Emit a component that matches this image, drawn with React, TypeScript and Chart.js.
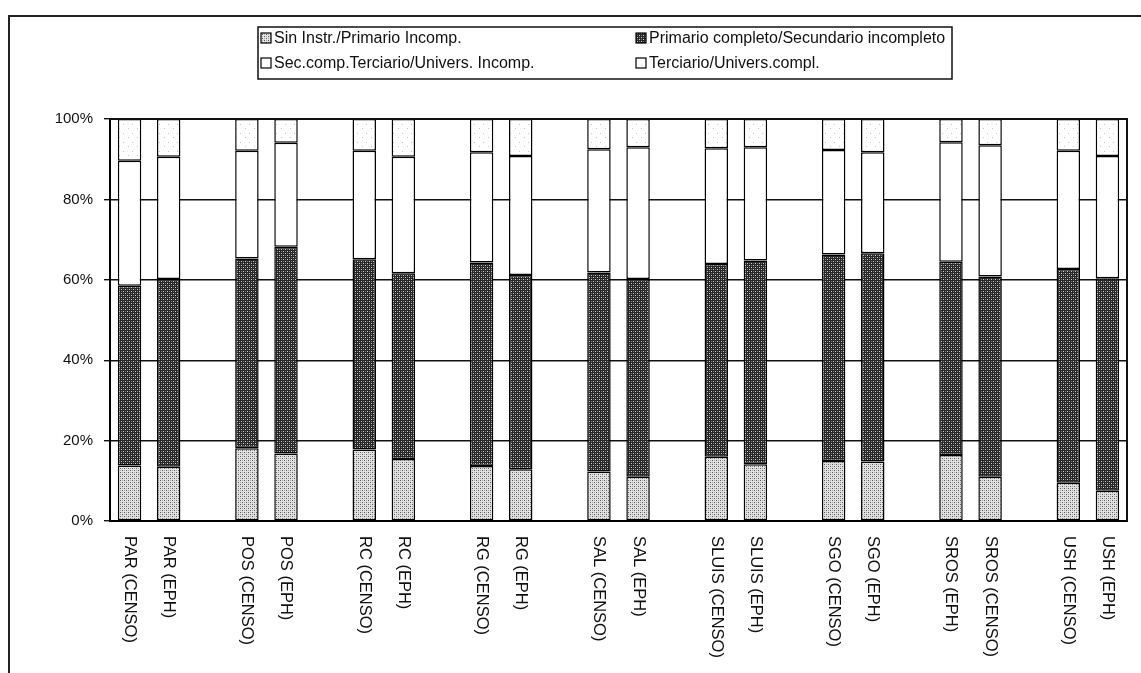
import React, { useEffect, useRef } from 'react';
import { Chart, registerables } from 'chart.js';

Chart.register(...registerables);

// Bar labels (in display order)
const barLabels = [
  'PAR (CENSO)', 'PAR (EPH)',
  'POS (CENSO)', 'POS (EPH)',
  'RC (CENSO)', 'RC (EPH)',
  'RG (CENSO)', 'RG (EPH)',
  'SAL (CENSO)', 'SAL (EPH)',
  'SLUIS (CENSO)', 'SLUIS (EPH)',
  'SGO (CENSO)', 'SGO (EPH)',
  'SROS (EPH)', 'SROS (CENSO)',
  'USH (CENSO)', 'USH (EPH)',
];

const seriesNames = [
  'Sin Instr./Primario Incomp.',
  'Primario completo/Secundario incompleto',
  'Sec.comp.Terciario/Univers. Incomp.',
  'Terciario/Univers.compl.',
];

const sinInstr = [13.8, 13.5, 18.1, 16.8, 17.8, 15.4, 13.7, 12.9, 12.3, 11.0, 16.0, 14.1, 14.9, 14.8, 16.4, 11.0, 9.5, 7.5];
const primarioCompleto = [44.7, 46.7, 47.2, 51.4, 47.3, 46.2, 50.6, 48.3, 49.5, 49.2, 47.9, 50.7, 51.4, 51.8, 48.1, 49.8, 53.2, 52.9];
const secComp = [31.1, 30.4, 26.8, 25.9, 27.0, 29.0, 27.4, 29.6, 30.7, 32.8, 28.8, 28.2, 26.0, 25.1, 29.7, 32.7, 29.4, 30.4];
const terciario = [10.4, 9.4, 7.9, 5.9, 7.9, 9.4, 8.3, 9.2, 7.5, 7.0, 7.3, 7.0, 7.7, 8.3, 5.8, 6.5, 7.9, 9.2];

const yTicks = [0, 20, 40, 60, 80, 100];

const FONT = '"Liberation Sans", Arial, sans-serif';

// insert an empty slot after every pair of bars
function withGaps<T>(arr: T[], blank: T): T[] {
  const out: T[] = [];
  arr.forEach((v, i) => {
    out.push(v);
    if (i % 2 === 1 && i < arr.length - 1) out.push(blank);
  });
  return out;
}

function makePattern(kind: number): CanvasPattern | string {
  const c = document.createElement('canvas');
  const ctx = c.getContext('2d');
  if (!ctx) return '#fff';
  if (kind === 0) {
    c.width = 4; c.height = 4;
    ctx.fillStyle = '#e2e2e2';
    ctx.fillRect(0, 0, 4, 4);
    ctx.fillStyle = '#5a5a5a';
    ctx.fillRect(0, 0, 1, 1);
    ctx.fillRect(2, 2, 1, 1);
    ctx.fillStyle = '#a8a8a8';
    ctx.fillRect(2, 0, 1, 1);
    ctx.fillRect(0, 2, 1, 1);
  } else if (kind === 1) {
    c.width = 4; c.height = 4;
    ctx.fillStyle = '#262626';
    ctx.fillRect(0, 0, 4, 4);
    ctx.fillStyle = '#d0d0d0';
    ctx.fillRect(1, 1, 1, 1);
    ctx.fillRect(3, 3, 1, 1);
    ctx.fillStyle = '#777';
    ctx.fillRect(3, 1, 1, 1);
    ctx.fillRect(1, 3, 1, 1);
  } else if (kind === 2) {
    c.width = 4; c.height = 4;
    ctx.fillStyle = '#ffffff';
    ctx.fillRect(0, 0, 4, 4);
  } else {
    c.width = 9; c.height = 9;
    ctx.fillStyle = '#ffffff';
    ctx.fillRect(0, 0, 9, 9);
    ctx.fillStyle = '#c4c4c4';
    ctx.fillRect(2, 2, 1, 1);
    ctx.fillRect(6, 7, 1, 1);
  }
  return ctx.createPattern(c, 'repeat') || '#fff';
}

export default function App() {
  const ref = useRef<HTMLCanvasElement | null>(null);

  useEffect(() => {
    if (!ref.current) return;
    const patterns = [0, 1, 2, 3].map((k) => makePattern(k));
    const slotLabels = withGaps<string>(barLabels, '');
    const seriesData = [sinInstr, primarioCompleto, secComp, terciario].map((s) =>
      withGaps<number | null>(s, null)
    );

    const framePlugin = {
      id: 'frame',
      beforeDraw(chart: any) {
        const ctx = chart.ctx;
        ctx.save();
        ctx.fillStyle = '#ffffff';
        ctx.fillRect(0, 0, chart.width, chart.height);
        ctx.strokeStyle = '#222';
        ctx.lineWidth = 2;
        ctx.beginPath();
        ctx.moveTo(9, chart.height);
        ctx.lineTo(9, 16);
        ctx.lineTo(chart.width, 16);
        ctx.stroke();
        ctx.restore();
      },
      afterDraw(chart: any) {
        const ctx = chart.ctx;
        const area = chart.chartArea;
        const xs = chart.scales.x;
        ctx.save();
        // plot right edge and top
        ctx.strokeStyle = '#111';
        ctx.lineWidth = 2;
        ctx.beginPath();
        ctx.moveTo(area.left, area.top);
        ctx.lineTo(area.right, area.top);
        ctx.lineTo(area.right, area.bottom);
        ctx.stroke();

        // rotated category labels (reading top to bottom)
        ctx.fillStyle = '#111';
        ctx.font = `16.5px ${FONT}`;
        ctx.textAlign = 'left';
        ctx.textBaseline = 'middle';
        slotLabels.forEach((lab, i) => {
          if (!lab) return;
          const x = xs.getPixelForValue(i);
          ctx.save();
          ctx.translate(x, area.bottom + 15);
          ctx.rotate(Math.PI / 2);
          ctx.fillText(lab, 0, 0);
          ctx.restore();
        });

        // legend box
        const lx = 258, ly = 27, lw = 694, lh = 52;
        ctx.strokeStyle = '#111';
        ctx.lineWidth = 1.5;
        ctx.fillStyle = '#fff';
        ctx.fillRect(lx, ly, lw, lh);
        ctx.strokeRect(lx, ly, lw, lh);
        const cols = [261, 636];
        const rows = [38, 63];
        ctx.font = `16px ${FONT}`;
        ctx.textBaseline = 'middle';
        chart.data.datasets.forEach((ds: any, i: number) => {
          const cx = cols[i % 2];
          const cy = rows[Math.floor(i / 2)];
          ctx.fillStyle = ds.backgroundColor;
          ctx.fillRect(cx, cy - 5, 10, 10);
          ctx.strokeStyle = '#000';
          ctx.lineWidth = 1.2;
          ctx.strokeRect(cx, cy - 5, 10, 10);
          ctx.fillStyle = '#111';
          ctx.fillText(ds.label, cx + 13, cy + 1);
        });
        ctx.restore();
      },
    };

    const chart = new Chart(ref.current, {
      type: 'bar',
      data: {
        labels: slotLabels,
        datasets: seriesNames.map((name, i) => ({
          label: name,
          data: seriesData[i],
          backgroundColor: patterns[i] as any,
          borderColor: '#000',
          borderWidth: 1.5,
          borderSkipped: false,
          barPercentage: 0.6,
          categoryPercentage: 1,
        })),
      },
      options: {
        responsive: false,
        animation: false,
        devicePixelRatio: 1,
        layout: { padding: { left: 0, right: 14, top: 119, bottom: 152 } },
        plugins: {
          legend: { display: false },
          tooltip: { enabled: false },
          title: { display: false },
        },
        scales: {
          x: {
            stacked: true,
            grid: { display: false },
            border: { display: true, color: '#000', width: 2 },
            ticks: { display: false },
            afterFit: (s: any) => { s.height = 0; },
          },
          y: {
            stacked: true,
            min: 0,
            max: 100,
            afterBuildTicks: (s: any) => { s.ticks = yTicks.map((v) => ({ value: v })); },
            ticks: {
              callback: (v: any) => `${v}%`,
              color: '#111',
              font: { family: FONT, size: 15 },
              padding: 11,
            },
            grid: { color: '#111', lineWidth: 1.4, tickLength: 6, drawTicks: true },
            border: { display: true, color: '#000', width: 2 },
            afterFit: (s: any) => { s.width = 110; },
          },
        },
      },
      plugins: [framePlugin],
    });
    return () => chart.destroy();
  }, []);

  return (
    <div style={{ position: 'fixed', left: 0, top: 0, width: 1141, height: 673, background: '#fff' }}>
      <canvas ref={ref} width={1141} height={673} style={{ display: 'block' }} />
    </div>
  );
}
